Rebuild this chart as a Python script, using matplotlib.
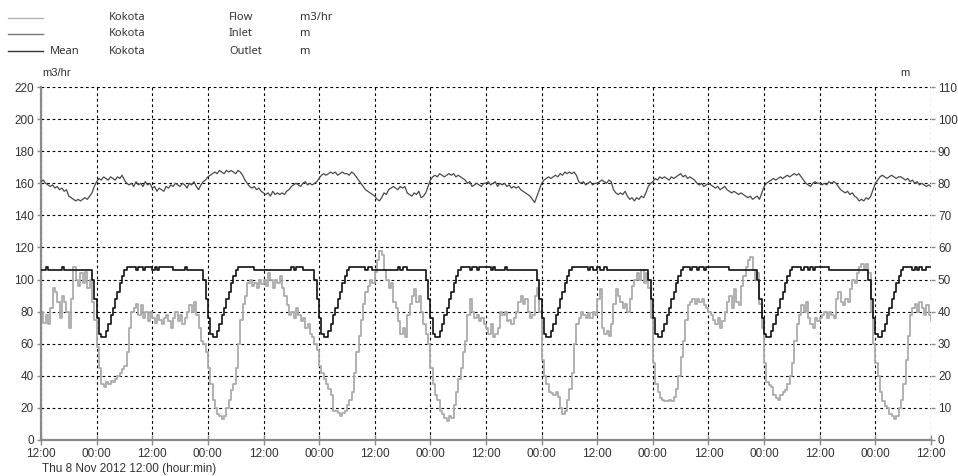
import matplotlib
matplotlib.use("Agg")
import matplotlib.pyplot as plt
from matplotlib.lines import Line2D

plt.rcParams['font.family'] = ['Liberation Sans', 'DejaVu Sans']

# readings every 30 min from Thu 8 Nov 2012 12:00, one row = 12 hours

# Kokota Flow, m3/hr (left axis)
flow = [
    80, 73, 78, 72, 82, 95, 92, 86, 76, 90, 86, 80, 70, 88, 108, 100, 96, 104, 98, 105, 95, 100, 86, 75,
    58, 45, 35, 33, 36, 35, 37, 36, 38, 40, 42, 44, 46, 55, 70, 80, 82, 85, 78, 84, 76, 80, 74, 80,
    76, 73, 78, 75, 72, 76, 78, 74, 70, 76, 80, 74, 78, 72, 76, 80, 84, 80, 86, 78, 70, 62, 60, 55,
    45, 35, 25, 20, 16, 15, 13, 15, 20, 25, 31, 35, 45, 60, 75, 85, 90, 98, 100, 96, 98, 95, 100, 97,
    100, 96, 104, 100, 95, 100, 98, 102, 95, 90, 84, 78, 80, 76, 82, 78, 74, 76, 70, 72, 66, 64, 60, 56,
    46, 42, 38, 35, 32, 28, 18, 18, 17, 15, 17, 18, 22, 25, 30, 42, 55, 65, 75, 85, 92, 96, 100, 98,
    105, 112, 118, 115, 106, 100, 95, 98, 86, 82, 74, 66, 70, 64, 78, 85, 90, 94, 86, 90, 80, 72, 66, 60,
    45, 35, 28, 25, 18, 16, 14, 12, 15, 14, 22, 30, 38, 45, 55, 62, 78, 88, 80, 76, 78, 74, 76, 72,
    70, 66, 72, 64, 66, 70, 80, 78, 80, 74, 75, 72, 76, 80, 86, 90, 85, 88, 80, 76, 78, 90, 95, 80,
    50, 40, 35, 30, 29, 28, 30, 27, 20, 16, 18, 25, 32, 42, 60, 72, 76, 80, 78, 76, 79, 76, 80, 78,
    88, 94, 70, 66, 68, 65, 72, 85, 94, 90, 86, 82, 85, 80, 88, 96, 100, 104, 100, 106, 98, 104, 95, 76,
    48, 35, 30, 26, 25, 24, 24, 25, 24, 27, 32, 40, 52, 62, 75, 84, 86, 88, 85, 88, 86, 88, 84, 82,
    80, 78, 75, 72, 76, 70, 74, 80, 86, 90, 82, 94, 86, 84, 96, 102, 108, 112, 114, 106, 100, 104, 85, 70,
    48, 36, 34, 33, 28, 26, 25, 28, 30, 31, 35, 40, 48, 62, 72, 78, 84, 80, 86, 76, 72, 70, 76, 74,
    76, 78, 80, 76, 80, 78, 76, 88, 92, 86, 84, 88, 86, 94, 100, 98, 104, 108, 110, 106, 110, 104, 80, 60,
    48, 40, 30, 24, 21, 20, 16, 15, 13, 15, 20, 25, 35, 50, 65, 78, 82, 85, 80, 86, 82, 78, 84, 78,
    75,
]

# Kokota Inlet, m (right axis)
inlet = [
    80.5, 81, 80, 79.5, 79, 79.5, 78.5, 79, 78, 78.5, 77.5, 78, 76, 75.5, 75, 74.5, 75, 74.5, 75, 75.5, 75, 76, 77, 79,
    80.5, 81.5, 81, 82, 81.5, 81, 82, 81.5, 81, 82, 81.5, 82.5, 81, 80, 79.5, 80, 79, 80.5, 79.5, 80, 79, 80.5, 79.5, 80,
    78.5, 79, 77.5, 78.5, 78, 77.5, 79, 78.5, 79.5, 79, 80, 79.5, 79, 80, 79.5, 78.5, 80, 79.5, 80.5, 79, 78, 79.5, 80.5, 81,
    82, 82.5, 83, 83.5, 83, 84, 83.5, 83, 84, 83.5, 84, 83.5, 83, 84, 83.5, 82.5, 81, 80, 79, 78.5, 79, 78, 78.5, 77.5,
    77, 76.5, 77, 76, 77.5, 76.5, 77, 76.5, 77, 76.5, 77.5, 78, 79, 79.5, 80, 79.5, 79, 80, 80.5, 79.5, 80, 79.5, 80, 80.5,
    81.5, 82.5, 83, 82.5, 83, 83.5, 83, 83.5, 82.5, 83, 83.5, 83, 83, 82.5, 83.5, 83, 82, 81, 80, 79, 78, 77.5, 77, 76.5,
    76, 75, 74.5, 75.5, 77, 76.5, 78, 78.5, 79, 78.5, 78, 79, 78.5, 79, 77, 76.5, 76, 77, 76.5, 77.5, 75.5, 76, 77, 79,
    81, 82, 82.5, 82, 83, 82.5, 82, 82.5, 83, 82.5, 83, 82, 82.5, 82, 81.5, 81, 80, 80.5, 79, 79.5, 80, 79.5, 79, 80,
    80, 80.5, 79.5, 80, 80.5, 79, 80, 79.5, 80, 79, 79.5, 78.5, 79, 78.5, 79, 78, 77.5, 77, 76.5, 76, 75, 74, 76, 78,
    80, 81, 81.5, 82, 81.5, 82, 82.5, 82, 83, 82.5, 83.5, 83, 83.5, 83, 83.5, 82.5, 80.5, 80, 80.5, 79.5, 80, 80.5, 79.5, 80,
    80, 80.5, 81, 80.5, 80, 81, 80.5, 78, 77, 76.5, 77, 76.5, 77.5, 76, 75, 75.5, 74.5, 75.5, 75, 76, 75.5, 77, 79, 80,
    80.5, 81.5, 81, 82, 81.5, 82, 81.5, 81, 82, 81.5, 82, 82.5, 83, 82, 82.5, 81.5, 82, 81.5, 81, 80, 79.5, 80, 79, 79.5,
    80, 79.5, 79, 78.5, 79, 78, 78.5, 79, 78, 77.5, 77, 77.5, 77, 76.5, 77, 76.5, 76, 75.5, 76, 75, 75.5, 76, 75, 77,
    79, 80, 80.5, 81, 81.5, 81, 81.5, 82, 81.5, 82, 82.5, 82, 82.5, 83, 82.5, 83, 82, 81, 80, 79.5, 79, 80, 80.5, 80,
    80, 79.5, 80, 79.5, 80.5, 80, 80.5, 80, 79, 78, 77.5, 77, 77.5, 76.5, 77, 76, 75.5, 74.5, 75, 74.5, 75.5, 75, 76, 78,
    80, 81, 82, 82.5, 82, 81.5, 82, 82.5, 82, 81.5, 82, 82, 81.5, 81, 81.5, 80.5, 81, 80, 80.5, 79.5, 80, 79.5, 79, 79.5,
    79,
]

# Kokota Outlet (Mean), m (right axis)
outlet = [
    53, 53, 54, 53, 53, 53, 53, 53, 53, 54, 53, 53, 53, 53, 53, 53, 53, 53, 53, 53, 53, 53, 50, 44,
    38, 33, 32, 32, 34, 36, 39, 41, 44, 46, 49, 51, 53, 54, 54, 54, 54, 53, 54, 54, 53, 54, 54, 54,
    53, 54, 53, 54, 54, 54, 54, 54, 54, 53, 53, 53, 53, 53, 54, 53, 53, 53, 53, 53, 53, 53, 50, 44,
    38, 33, 32, 32, 34, 36, 39, 41, 44, 46, 49, 51, 53, 54, 54, 54, 54, 54, 54, 54, 53, 53, 53, 53,
    53, 53, 53, 53, 53, 53, 53, 53, 53, 53, 53, 53, 54, 53, 54, 54, 54, 53, 53, 53, 53, 53, 50, 44,
    38, 33, 32, 32, 34, 36, 39, 41, 44, 46, 49, 51, 53, 54, 54, 54, 54, 54, 54, 54, 53, 54, 54, 53,
    53, 53, 53, 53, 53, 53, 53, 53, 53, 53, 54, 53, 54, 54, 53, 53, 53, 53, 53, 53, 53, 53, 50, 44,
    38, 33, 32, 32, 34, 36, 39, 41, 44, 46, 49, 51, 53, 54, 54, 54, 54, 53, 54, 54, 53, 54, 54, 54,
    54, 54, 53, 54, 53, 53, 53, 53, 54, 53, 53, 53, 53, 53, 53, 53, 53, 53, 53, 53, 53, 53, 50, 44,
    38, 33, 32, 32, 34, 36, 39, 41, 44, 46, 49, 51, 53, 54, 54, 54, 54, 54, 54, 54, 53, 54, 53, 53,
    54, 53, 53, 54, 53, 53, 53, 53, 53, 53, 53, 53, 53, 53, 53, 53, 53, 53, 53, 53, 53, 53, 50, 44,
    38, 33, 32, 32, 34, 36, 39, 41, 44, 46, 49, 51, 53, 54, 54, 54, 53, 54, 54, 53, 54, 54, 53, 54,
    54, 54, 54, 54, 54, 54, 54, 54, 54, 53, 53, 53, 53, 53, 53, 53, 53, 53, 53, 53, 53, 50, 44, 38,
    33, 32, 32, 34, 36, 39, 41, 44, 46, 49, 51, 53, 54, 54, 54, 54, 53, 54, 54, 53, 54, 53, 54, 54,
    54, 54, 54, 54, 53, 53, 53, 53, 53, 53, 53, 53, 53, 53, 53, 53, 53, 53, 53, 53, 53, 50, 44, 38,
    33, 32, 32, 34, 36, 39, 41, 44, 46, 49, 51, 53, 54, 54, 54, 54, 53, 54, 53, 54, 53, 53, 54, 54,
    54,
]

x_ticks = list(range(0, 193, 12))
x_labels = ['12:00' if t % 24 == 0 else '00:00' for t in x_ticks]
left_ticks = list(range(0, 221, 20))
right_ticks = list(range(0, 111, 10))

# time in hours for each reading
t_flow = [i * 0.5 for i in range(len(flow))]
t_inlet = [i * 0.5 for i in range(len(inlet))]
t_outlet = [i * 0.5 for i in range(len(outlet))]

fig = plt.figure(figsize=(9.58, 4.76), dpi=100)
ax = fig.add_axes([41 / 958, 1 - 440 / 476, 890 / 958, 353 / 476])
ax2 = ax.twinx()

grid_style = dict(color='black', linestyle=(0, (2.5, 2.5)), linewidth=0.8)
ax.set_axisbelow(True)
ax.grid(True, **grid_style)

ax.step(t_flow, flow, where='post', color='#ababab', lw=1.3)
ax2.step(t_outlet, outlet, where='post', color='#111111', lw=1.2)
ax2.plot(t_inlet, inlet, color='#4a4a4a', lw=0.9)

ax.set_xlim(0, 192)
ax.set_ylim(0, 220)
ax2.set_ylim(0, 110)
ax.set_xticks(x_ticks)
ax.set_xticklabels(x_labels)
ax.set_yticks(left_ticks)
ax2.set_yticks(right_ticks)

for a in (ax, ax2):
    for s in a.spines.values():
        s.set_visible(False)
ax.spines['left'].set_visible(True)
ax.spines['bottom'].set_visible(True)
ax.spines['left'].set_color('#8a8a8a')
ax.spines['bottom'].set_color('#8a8a8a')
ax.spines['left'].set_linewidth(1.6)
ax.spines['bottom'].set_linewidth(1.6)

ax.tick_params(axis='x', direction='inout', length=7, width=1, color='#8a8a8a',
               labelsize=8.5, labelcolor='#333333', pad=2)
ax.tick_params(axis='y', direction='out', length=3, width=1, color='#8a8a8a',
               labelsize=8.5, labelcolor='#333333', pad=2)
ax2.tick_params(axis='y', direction='out', length=3, width=1, color='#8a8a8a',
                labelsize=8.5, labelcolor='#333333', pad=2)

# axis units and date line
fig.text(42 / 958, 1 - 73 / 476, 'm3/hr', fontsize=8, color='#333333', va='center')
fig.text(900 / 958, 1 - 73 / 476, 'm', fontsize=8, color='#333333', va='center')
fig.text(42 / 958, 1 - 469 / 476, 'Thu 8 Nov 2012 12:00 (hour:min)', fontsize=8.5,
         color='#333333', va='center')

# legend block at the top
legend_rows = [
    ('', 'Kokota', 'Flow', 'm3/hr', '#b5b5b5', 18),
    ('', 'Kokota', 'Inlet', 'm', '#7a7a7a', 34),
    ('Mean', 'Kokota', 'Outlet', 'm', '#333333', 51),
]
for stat, site, name, unit, col, ypx in legend_rows:
    yf = 1 - ypx / 476
    fig.add_artist(Line2D([8 / 958, 43 / 958], [yf, yf], color=col, lw=1.0))
    for xpx, txt in ((50, stat), (109, site), (229, name), (300, unit)):
        if txt:
            fig.text(xpx / 958, yf, txt, fontsize=8, color='#333333', va='center',
                     family=['Noto Sans', 'DejaVu Sans'])

fig.savefig('out.png', dpi=100)
